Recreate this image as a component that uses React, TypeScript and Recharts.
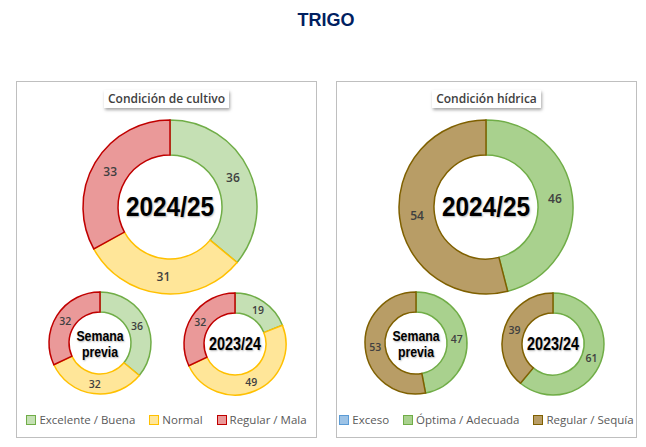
import React from 'react';
import { PieChart, Pie, Cell } from 'recharts';

// Condición de cultivo
const cultivoCategories = ['Excelente / Buena', 'Normal', 'Regular / Mala'];
const cultivoActual = [36, 31, 33];
const cultivoPrevia = [36, 32, 32];
const cultivoAnterior = [19, 49, 32];

// Condición hídrica
const hidricaCategories = ['Exceso', 'Óptima / Adecuada', 'Regular / Sequía'];
const hidricaActual = [0, 46, 54];
const hidricaPrevia = [0, 47, 53];
const hidricaAnterior = [0, 61, 39];

const cultivoFill = ['#c5e0b4', '#ffe699', '#ea9999'];
const cultivoStroke = ['#70ad47', '#ffc000', '#c00000'];
const hidricaFill = ['#9dc3e6', '#a9d18e', '#b89d66'];
const hidricaStroke = ['#5b9bd5', '#70ad47', '#7f6000'];

const toData = (cats: string[], vals: number[]) => cats.map((name, i) => ({ name, value: vals[i] }));

const LABEL_FONT = '"Open Sans", "Noto Sans", sans-serif';
const CENTER_FONT = '"Liberation Sans", Arial, sans-serif';

const makeLabel = (fontSize: number) => (props: any) => {
  const { cx, cy, midAngle, innerRadius, outerRadius, value } = props;
  if (!value) return null;
  const r = (innerRadius + outerRadius) / 2;
  const rad = Math.PI / 180;
  const x = cx + r * Math.cos(-midAngle * rad);
  const y = cy + r * Math.sin(-midAngle * rad);
  return (
    <text x={x} y={y} textAnchor="middle" dominantBaseline="central" fill="#404040"
      fontSize={fontSize} fontWeight={600} fontFamily={LABEL_FONT}>
      {value}
    </text>
  );
};

interface DonutSpec {
  key: string;
  cats: string[];
  vals: number[];
  fill: string[];
  stroke: string[];
  cx: number;
  cy: number;
  inner: number;
  outer: number;
  labelSize: number;
}

const donuts: DonutSpec[] = [
  { key: 'c1', cats: cultivoCategories, vals: cultivoActual, fill: cultivoFill, stroke: cultivoStroke, cx: 170, cy: 207, inner: 52, outer: 87, labelSize: 12 },
  { key: 'c2', cats: cultivoCategories, vals: cultivoPrevia, fill: cultivoFill, stroke: cultivoStroke, cx: 100, cy: 343, inner: 31, outer: 51, labelSize: 10.5 },
  { key: 'c3', cats: cultivoCategories, vals: cultivoAnterior, fill: cultivoFill, stroke: cultivoStroke, cx: 235, cy: 344, inner: 31, outer: 51, labelSize: 10.5 },
  { key: 'h1', cats: hidricaCategories, vals: hidricaActual, fill: hidricaFill, stroke: hidricaStroke, cx: 486, cy: 207, inner: 52, outer: 87, labelSize: 12 },
  { key: 'h2', cats: hidricaCategories, vals: hidricaPrevia, fill: hidricaFill, stroke: hidricaStroke, cx: 416, cy: 343, inner: 31, outer: 51, labelSize: 10.5 },
  { key: 'h3', cats: hidricaCategories, vals: hidricaAnterior, fill: hidricaFill, stroke: hidricaStroke, cx: 553, cy: 344, inner: 31, outer: 51, labelSize: 10.5 },
];

const centerText: { x: number; y: number; lines: string[]; size: number; squeeze: number }[] = [
  { x: 170, y: 207, lines: ['2024/25'], size: 28, squeeze: 0.87 },
  { x: 100, y: 344, lines: ['Semana', 'previa'], size: 15, squeeze: 0.82 },
  { x: 235, y: 344, lines: ['2023/24'], size: 18, squeeze: 0.8 },
  { x: 486, y: 207, lines: ['2024/25'], size: 28, squeeze: 0.87 },
  { x: 416, y: 344, lines: ['Semana', 'previa'], size: 15, squeeze: 0.82 },
  { x: 553, y: 344, lines: ['2023/24'], size: 18, squeeze: 0.8 },
];

const Panel: React.FC<{ left: number; title: string; cats: string[]; fill: string[]; stroke: string[] }> = ({ left, title, cats, fill, stroke }) => (
  <div style={{ position: 'absolute', left, top: 81, width: 301, height: 357, border: '1px solid #bfbfbf', boxSizing: 'border-box' }}>
    <div style={{ position: 'absolute', top: 8, left: 0, right: 0, display: 'flex', justifyContent: 'center' }}>
      <div style={{
        background: '#fff', padding: '1px 4px', fontFamily: LABEL_FONT, fontWeight: 600, fontSize: 12,
        color: '#404040', boxShadow: '1px 2px 3px rgba(0,0,0,0.35)', lineHeight: '16px',
      }}>{title}</div>
    </div>
    <div style={{ position: 'absolute', top: 330, left: 0, right: 0, display: 'flex', justifyContent: 'center', gap: 14 }}>
      {cats.map((c, i) => (
        <div key={c} style={{ display: 'flex', alignItems: 'center', fontFamily: LABEL_FONT, fontSize: 11.5, color: '#595959' }}>
          <span style={{ width: 8, height: 8, background: fill[i], border: `1px solid ${stroke[i]}`, marginRight: 3, display: 'inline-block' }} />
          {c}
        </div>
      ))}
    </div>
  </div>
);

const App: React.FC = () => (
  <div style={{ position: 'absolute', left: 0, top: 0, width: 646, height: 447, background: '#fff', overflow: 'hidden' }}>
    <div style={{ position: 'absolute', top: 10, left: 0, width: 652, textAlign: 'center', fontFamily: '"Liberation Sans", Arial, sans-serif', fontWeight: 700, fontSize: 18, color: '#002060' }}>
      TRIGO
    </div>
    <Panel left={16} title="Condición de cultivo" cats={cultivoCategories} fill={cultivoFill} stroke={cultivoStroke} />
    <Panel left={336} title="Condición hídrica" cats={hidricaCategories} fill={hidricaFill} stroke={hidricaStroke} />
    <div style={{ position: 'absolute', left: 0, top: 0 }}>
      <PieChart width={646} height={447} margin={{ top: 0, right: 0, bottom: 0, left: 0 }}>
        {donuts.map((d) => (
          <Pie
            key={d.key}
            data={toData(d.cats, d.vals)}
            dataKey="value"
            nameKey="name"
            cx={d.cx}
            cy={d.cy}
            innerRadius={d.inner}
            outerRadius={d.outer}
            startAngle={90}
            endAngle={-270}
            label={makeLabel(d.labelSize)}
            labelLine={false}
            isAnimationActive={false}
          >
            {d.vals.map((v, i) => (
              <Cell key={`${d.key}-${i}`} fill={d.fill[i]} stroke={v ? d.stroke[i] : 'none'} strokeWidth={1.5} />
            ))}
          </Pie>
        ))}
      </PieChart>
    </div>
    {centerText.map((t, i) => (
      <div key={i} style={{
        position: 'absolute', left: t.x, top: t.y, transform: `translate(-50%, -50%) scaleX(${t.squeeze})`, textAlign: 'center',
        fontFamily: CENTER_FONT, fontWeight: 700, fontSize: t.size, lineHeight: 1.05, color: '#000',
        textShadow: '1px 1px 2px rgba(0,0,0,0.3)', whiteSpace: 'nowrap',
      }}>
        {t.lines.map((l) => <div key={l}>{l}</div>)}
      </div>
    ))}
  </div>
);

export default App;
